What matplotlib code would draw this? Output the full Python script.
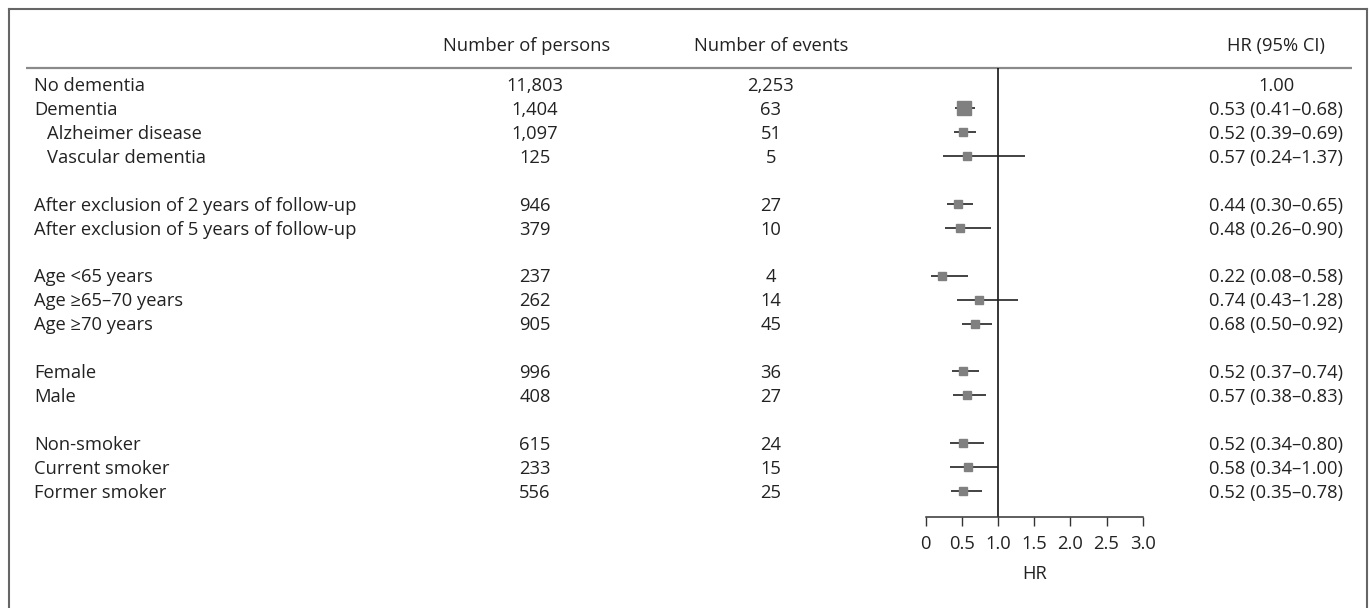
import numpy as np
import matplotlib
matplotlib.use("Agg")
import matplotlib.pyplot as plt
from matplotlib.lines import Line2D
from matplotlib.transforms import offset_copy

# ---------------- data ----------------
groups = [
    ["No dementia", "Dementia", "Alzheimer disease", "Vascular dementia"],
    ["After exclusion of 2 years of follow-up", "After exclusion of 5 years of follow-up"],
    ["Age <65 years", "Age \u226565\u201370 years", "Age \u226570 years"],
    ["Female", "Male"],
    ["Non-smoker", "Current smoker", "Former smoker"],
]
indented = ["Alzheimer disease", "Vascular dementia"]
persons = [11803, 1404, 1097, 125, 946, 379, 237, 262, 905, 996, 408, 615, 233, 556]
events = [2253, 63, 51, 5, 27, 10, 4, 14, 45, 36, 27, 24, 15, 25]
hr = [1.00, 0.53, 0.52, 0.57, 0.44, 0.48, 0.22, 0.74, 0.68, 0.52, 0.57, 0.52, 0.58, 0.52]
ci_low = [np.nan, 0.41, 0.39, 0.24, 0.30, 0.26, 0.08, 0.43, 0.50, 0.37, 0.38, 0.34, 0.34, 0.35]
ci_high = [np.nan, 0.68, 0.69, 1.37, 0.65, 0.90, 0.58, 1.28, 0.92, 0.74, 0.83, 0.80, 1.00, 0.78]
headers = ["Number of persons", "Number of events", "HR (95% CI)"]
xticks = [0, 0.5, 1.0, 1.5, 2.0, 2.5, 3.0]
xtick_labels = ["0", "0.5", "1.0", "1.5", "2.0", "2.5", "3.0"]
reference_hr = 1.0
main_row = "Dementia"

# ---------------- layout ----------------
W, H = 1370, 608
plt.rcParams['font.family'] = ['Open Sans', 'DejaVu Sans']
FS = 13.2
TC = "#222222"

labels, ypos = [], []
pos = 0
for g in groups:
    for lab in g:
        labels.append(lab)
        ypos.append(pos)
        pos += 1
    pos += 1

fig = plt.figure(figsize=(W / 100, H / 100), dpi=100)

top_px, bot_px = 68.3, 517.3
row0_px, row_step = 84.4, 23.92
y_top = (top_px - row0_px) / row_step
y_bot = (bot_px - row0_px) / row_step

def fx(px):
    return px / W

def fy(py):
    return 1 - py / H

# text axes (pixel x coordinates, row y coordinates)
axt = fig.add_axes([0, fy(bot_px), 1, (bot_px - top_px) / H])
axt.set_xlim(0, W)
axt.set_ylim(y_bot, y_top)
axt.axis("off")
# baseline sits ~6.6 px below the row centre
tr = offset_copy(axt.transData, fig=fig, x=0, y=-6.6, units="dots")

# forest axes
x0_px, x3_px = 925.7, 1142.7
ax = fig.add_axes([fx(x0_px), fy(bot_px), (x3_px - x0_px) / W, (bot_px - top_px) / H])
ax.set_xlim(xticks[0], xticks[-1])
ax.set_ylim(y_bot, y_top)
ax.patch.set_alpha(0)
for s in ["top", "right", "left"]:
    ax.spines[s].set_visible(False)
ax.spines["bottom"].set_color("#333333")
ax.spines["bottom"].set_linewidth(1.1)
ax.set_yticks([])
ax.set_xticks(xticks)
ax.set_xticklabels(xtick_labels)
ax.tick_params(axis="x", direction="out", length=6.5, width=1.0, color="#333333",
               labelsize=FS, labelcolor=TC, pad=6.3)
ax.set_xlabel("HR", fontsize=FS, color=TC, labelpad=8.6)
ax.axvline(reference_hr, color="black", lw=1.1, zorder=1)

for i, (y, h, lo, hi) in enumerate(zip(ypos, hr, ci_low, ci_high)):
    if np.isnan(lo):
        continue
    ax.hlines(y, lo, hi, color="#222222", lw=1.2, zorder=2)
    ms = 9.5 if labels[i] == main_row else 6.2
    ax.plot([h], [y], marker="s", ms=ms, color="#808080", mec="#808080", zorder=3)

# header
header_y = (44.5 - row0_px) / row_step
col_persons, col_events, col_hr = 527, 771, 1276
kw = dict(va="baseline", fontsize=FS, color=TC, transform=tr)
axt.text(col_persons, header_y, headers[0], ha="center", **kw)
axt.text(col_events, header_y, headers[1], ha="center", **kw)
axt.text(col_hr, header_y, headers[2], ha="center", **kw)
axt.plot([26, 1352], [y_top, y_top], color="#8a8a8a", lw=1.6, clip_on=False,
         solid_capstyle="butt")

for i, y in enumerate(ypos):
    x_lab = 47 if labels[i] in indented else 34
    axt.text(x_lab, y, labels[i], ha="left", **kw)
    axt.text(col_persons + 8, y, f"{persons[i]:,}", ha="center", **kw)
    axt.text(col_events, y, f"{events[i]:,}", ha="center", **kw)
    if np.isnan(ci_low[i]):
        s = f"{hr[i]:.2f}"
    else:
        s = f"{hr[i]:.2f} ({ci_low[i]:.2f}\u2013{ci_high[i]:.2f})"
    axt.text(col_hr, y, s, ha="center", **kw)

# open border box (no bottom edge)
bc = "#666666"
fig.add_artist(Line2D([fx(9), fx(9)], [fy(8.5), fy(620)], color=bc, lw=1.5,
                      transform=fig.transFigure))
fig.add_artist(Line2D([fx(1367), fx(1367)], [fy(8.5), fy(620)], color=bc, lw=1.5,
                      transform=fig.transFigure))
fig.add_artist(Line2D([fx(9), fx(1367)], [fy(8.5), fy(8.5)], color=bc, lw=1.5,
                      transform=fig.transFigure))

fig.savefig("out.png", dpi=100)
